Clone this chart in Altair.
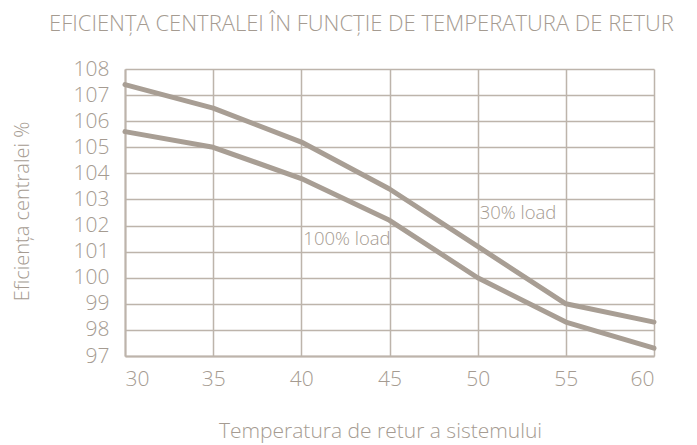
import altair as alt
import pandas as pd

temps = [30, 35, 40, 45, 50, 55, 60]
load30 = [107.4, 106.5, 105.2, 103.4, 101.2, 99.0, 98.3]
load100 = [105.6, 105.0, 103.8, 102.2, 100.0, 98.3, 97.3]
series_names = ["30% load", "100% load"]

label_texts = ["30% load", "100% load"]
label_x = [50, 40]
label_y = [102.5, 101.5]

x_ticks = [30, 35, 40, 45, 50, 55, 60]
y_ticks = list(range(97, 109))

LINE = "#a89e94"
GRID = "#bdb4ab"
TEXT = "#a59b91"
FONT = "Open Sans"

rows = []
for name, vals in zip(series_names, [load30, load100]):
    for t, v in zip(temps, vals):
        rows.append({"temp": t, "eff": v, "series": name})
df = pd.DataFrame(rows)

lab = pd.DataFrame({"temp": label_x, "eff": label_y, "text": label_texts})

x_enc = alt.X(
    "temp:Q",
    scale=alt.Scale(domain=[30, 60], nice=False, zero=False),
    axis=alt.Axis(
        values=x_ticks,
        title="Temperatura de retur a sistemului",
        titleX=255,
        titleY=81,
        titleAlign="center",
        titleBaseline="alphabetic",
        titleFontSize=21,
        labelPadding=12,
        labelOverlap=False,
    ),
)
y_enc = alt.Y(
    "eff:Q",
    scale=alt.Scale(domain=[97, 108], nice=False, zero=False),
    axis=alt.Axis(
        values=y_ticks,
        title="Eficiența centralei %",
        titleX=-97,
        titleY=142,
        titleAngle=-90,
        titleAlign="center",
        titleBaseline="alphabetic",
        titleFontSize=20,
        labelPadding=16,
        labelOverlap=False,
    ),
)

lines = alt.Chart(df).mark_line(
    strokeWidth=5, color=LINE, strokeCap="round", strokeJoin="round"
).encode(x=x_enc, y=y_enc, detail="series:N")

texts = alt.Chart(lab).mark_text(
    align="left", baseline="middle", dx=2, font=FONT, fontSize=18.5,
    fontWeight=300, color=TEXT
).encode(x=x_enc, y=y_enc, text="text:N")

chart = alt.layer(lines, texts).properties(
    width=529,
    height=287,
    autosize=alt.AutoSizeParams(type="none"),
    padding={"left": 117, "top": 61, "right": 35, "bottom": 88},
    title=alt.TitleParams(
        text="EFICIENȚA CENTRALEI ÎN FUNCȚIE DE TEMPERATURA DE RETUR",
        anchor="start",
        frame="group",
        dx=-76,
        offset=5,
        baseline="alphabetic",
        font=FONT,
        fontSize=22,
        fontWeight=300,
        color=TEXT,
    ),
).configure_view(stroke=None).configure_axis(
    grid=True,
    gridColor=GRID,
    gridWidth=1.5,
    domain=True,
    domainColor=GRID,
    domainWidth=2,
    ticks=False,
    labelFont=FONT,
    labelFontSize=21,
    labelFontWeight=300,
    labelColor=TEXT,
    labelOverlap=False,
    titleFont=FONT,
    titleFontWeight=300,
    titleColor=TEXT,
)

chart.save("out.html", embed_options={"renderer": "svg", "actions": False})
